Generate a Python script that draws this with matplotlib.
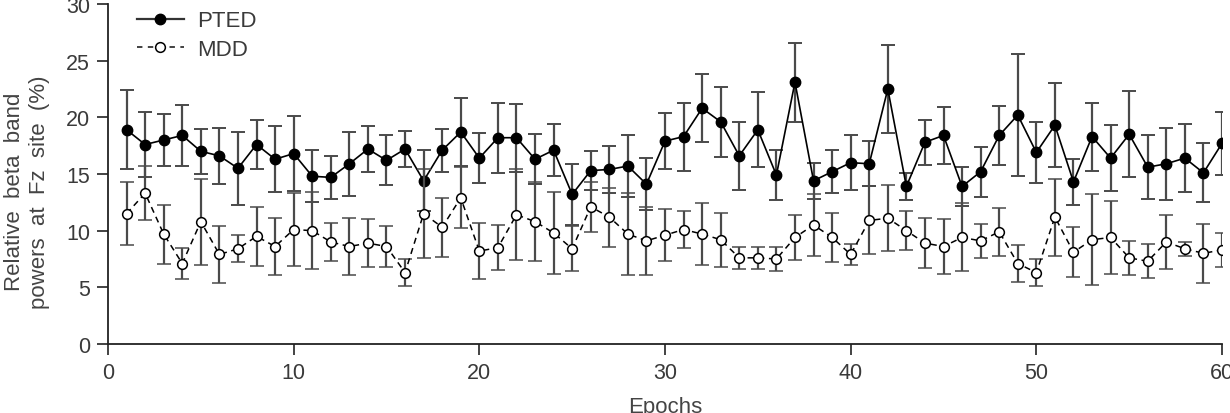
import numpy as np
import matplotlib
matplotlib.use("Agg")
import matplotlib.pyplot as plt
from matplotlib.lines import Line2D

plt.rcParams['font.family'] = ['Liberation Sans', 'DejaVu Sans']

epochs = np.arange(1, 61)

pted_mean = [18.9, 17.6, 18.0, 18.4, 17.0, 16.6, 15.5, 17.6, 16.3, 16.8,
             14.8, 14.7, 15.9, 17.2, 16.2, 17.2, 14.4, 17.1, 18.7, 16.4,
             18.2, 18.2, 16.3, 17.1, 13.2, 15.3, 15.4, 15.7, 14.1, 17.9,
             18.3, 20.8, 19.6, 16.6, 18.9, 14.9, 23.1, 14.4, 15.2, 16.0,
             15.9, 22.5, 13.9, 17.8, 18.4, 13.9, 15.2, 18.4, 20.2, 16.9,
             19.3, 14.3, 18.3, 16.4, 18.5, 15.6, 15.9, 16.4, 15.1, 17.7]
pted_sd = [3.5, 2.9, 2.3, 2.7, 2.0, 2.5, 3.2, 2.2, 2.9, 3.3,
           2.3, 1.9, 2.8, 2.0, 2.2, 1.6, 2.7, 1.9, 3.0, 2.2,
           3.1, 3.0, 2.2, 2.3, 2.7, 1.7, 2.1, 2.7, 2.3, 2.5,
           3.0, 3.0, 3.1, 3.0, 3.3, 2.2, 3.5, 1.6, 1.9, 2.4,
           2.0, 3.9, 1.2, 2.0, 2.5, 1.7, 2.2, 2.6, 5.4, 2.7,
           3.7, 2.0, 3.0, 2.9, 3.8, 2.8, 3.2, 3.0, 2.6, 2.8]

mdd_mean = [11.5, 13.3, 9.7, 7.1, 10.8, 7.9, 8.4, 9.5, 8.6, 10.1,
            10.0, 9.0, 8.6, 8.9, 8.6, 6.3, 11.5, 10.3, 12.9, 8.2,
            8.5, 11.4, 10.8, 9.8, 8.4, 12.1, 11.2, 9.7, 9.1, 9.6,
            10.1, 9.7, 9.2, 7.6, 7.6, 7.5, 9.4, 10.5, 9.4, 7.9,
            10.9, 11.1, 10.0, 8.9, 8.6, 9.4, 9.1, 9.9, 7.1, 6.3,
            11.2, 8.1, 9.2, 9.4, 7.6, 7.3, 9.0, 8.4, 8.0, 8.3]
mdd_sd = [2.8, 2.4, 2.6, 1.4, 3.8, 2.5, 1.2, 2.6, 2.5, 3.2,
          3.4, 1.7, 2.5, 2.1, 1.8, 1.2, 3.9, 2.6, 2.7, 2.5,
          2.0, 4.0, 3.5, 3.6, 2.0, 2.2, 2.6, 3.6, 3.0, 2.3,
          1.6, 2.7, 2.4, 1.0, 1.0, 1.1, 2.0, 2.7, 2.2, 0.9,
          3.0, 2.9, 1.7, 2.2, 2.4, 3.0, 1.5, 2.1, 1.6, 1.2,
          3.4, 2.2, 4.0, 3.2, 1.5, 1.5, 2.4, 0.6, 2.6, 1.5]

fig = plt.figure(figsize=(12.3, 4.14), dpi=100)
ax = fig.add_axes([0.0878, 0.1667, 0.9057, 0.8213])

bar_col = '#4a4a4a'
ax.errorbar(epochs, pted_mean, yerr=pted_sd, fmt='o-', color='black',
            ecolor=bar_col, elinewidth=1.6, capsize=5, capthick=1.4,
            markersize=7.5, linewidth=1.2, zorder=3)
ax.errorbar(epochs, mdd_mean, yerr=mdd_sd, fmt='o--', color='black',
            mfc='white', mec='black', mew=1.1, dashes=(4, 3),
            ecolor=bar_col, elinewidth=1.6, capsize=5, capthick=1.4,
            markersize=7, linewidth=1.1, zorder=4)

ax.set_xlim(0, 60)
ax.set_ylim(0, 30)
ax.set_xticks(range(0, 61, 10))
ax.set_yticks(range(0, 31, 5))
for s in ['top', 'right']:
    ax.spines[s].set_visible(False)
for s in ['left', 'bottom']:
    ax.spines[s].set_linewidth(1.3)
    ax.spines[s].set_color('#222222')
ax.tick_params(direction='out', length=8, width=1.2, labelsize=15.5,
               labelcolor='#3a3a3a', pad=5, color='#222222')

ax.set_ylabel('Relative  beta  band\npowers  at  Fz  site  (%)', fontsize=16,
              color='#444444', linespacing=1.25)
ax.yaxis.set_label_coords(-0.052, 0.45)
ax.set_xlabel('Epochs', fontsize=16, color='#444444')
ax.xaxis.set_label_coords(0.5, -0.153)

handles = [Line2D([], [], color='#333333', lw=1.6, marker='o', ms=7.5,
                  mfc='black', mec='black'),
           Line2D([], [], color='#333333', lw=1.3, ls=(0, (3, 3)), marker='o',
                  ms=7, mfc='white', mec='black', mew=1.1)]
ax.legend(handles, ['PTED', 'MDD'], loc='upper left',
          bbox_to_anchor=(0.026, 0.981), borderaxespad=0, borderpad=0,
          frameon=False, fontsize=16, handlelength=2.1, handletextpad=0.6,
          labelspacing=0.35, labelcolor='#3a3a3a')

fig.savefig('out.png', dpi=100)
